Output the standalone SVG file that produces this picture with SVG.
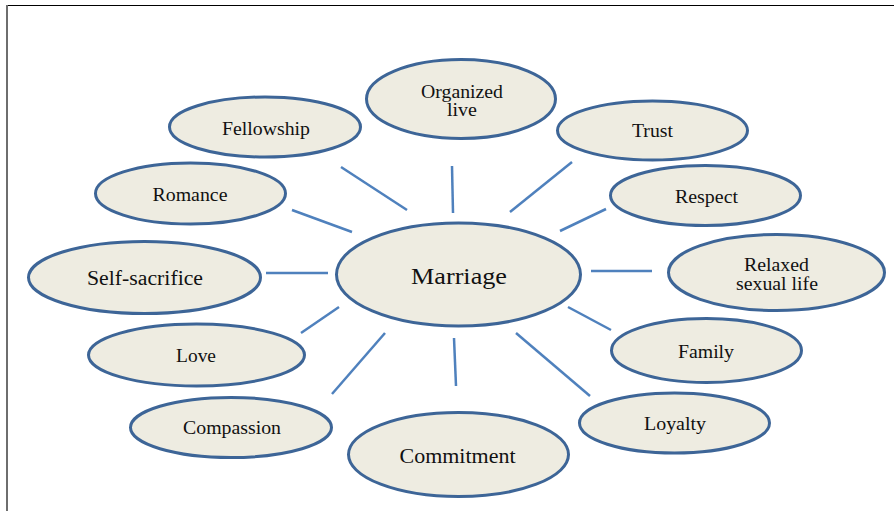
<svg xmlns="http://www.w3.org/2000/svg" width="894" height="511" viewBox="0 0 894 511">
  <style>
    .node ellipse { fill: #eeece1; stroke: #3d6597; stroke-width: 3; }
    .node text { font-family: "Liberation Serif", "Times New Roman", serif; fill: #111111; text-anchor: middle; }
    .edges line { stroke: #4f81bd; stroke-width: 2.5; stroke-linecap: butt; }
  </style>

  <rect width="894" height="511" fill="#ffffff"/>
  <!-- page frame -->
  <line x1="7" y1="5.5" x2="894" y2="5.5" stroke="#000000" stroke-width="1.2"/>
  <line x1="7" y1="5" x2="7" y2="511" stroke="#6e6e6e" stroke-width="2"/>

  <g class="edges">
    <line x1="341" y1="167" x2="407" y2="210"/>
    <line x1="292" y1="210" x2="352" y2="232"/>
    <line x1="452" y1="166" x2="453" y2="213"/>
    <line x1="572" y1="162" x2="510" y2="212"/>
    <line x1="606" y1="209" x2="560" y2="231"/>
    <line x1="591" y1="271" x2="652" y2="271"/>
    <line x1="568" y1="307" x2="611" y2="330"/>
    <line x1="516" y1="333" x2="590" y2="396"/>
    <line x1="454" y1="338" x2="456" y2="386"/>
    <line x1="266" y1="273" x2="328" y2="273"/>
    <line x1="339" y1="307" x2="301" y2="333"/>
    <line x1="385" y1="333" x2="332" y2="394"/>
  </g>

  <g id="marriage" class="node">
    <ellipse cx="458.5" cy="274.5" rx="122" ry="51.5"/>
    <text x="459" y="284" font-size="23" textLength="96" lengthAdjust="spacingAndGlyphs">Marriage</text>
  </g>
  <g id="fellowship" class="node">
    <ellipse cx="265" cy="127" rx="95.5" ry="30"/>
    <text x="266" y="135" font-size="18.5" textLength="88" lengthAdjust="spacingAndGlyphs">Fellowship</text>
  </g>
  <g id="organized-live" class="node">
    <ellipse cx="461" cy="99" rx="94.5" ry="39.5"/>
    <text x="462" y="97.5" font-size="18.5" textLength="82" lengthAdjust="spacingAndGlyphs">Organized</text>
    <text x="462" y="116" font-size="18.5" textLength="30" lengthAdjust="spacingAndGlyphs">live</text>
  </g>
  <g id="trust" class="node">
    <ellipse cx="652.5" cy="130.5" rx="95" ry="29.5"/>
    <text x="652.5" y="136.5" font-size="18" textLength="41" lengthAdjust="spacingAndGlyphs">Trust</text>
  </g>
  <g id="respect" class="node">
    <ellipse cx="705.5" cy="195.5" rx="95" ry="30"/>
    <text x="706.5" y="202.5" font-size="18" textLength="63" lengthAdjust="spacingAndGlyphs">Respect</text>
  </g>
  <g id="relaxed-sexual-life" class="node">
    <ellipse cx="776.5" cy="272.5" rx="108" ry="38"/>
    <text x="776.5" y="270.5" font-size="18" textLength="65" lengthAdjust="spacingAndGlyphs">Relaxed</text>
    <text x="777" y="289.5" font-size="18" textLength="82" lengthAdjust="spacingAndGlyphs">sexual life</text>
  </g>
  <g id="family" class="node">
    <ellipse cx="706.5" cy="350.5" rx="95" ry="32"/>
    <text x="706" y="357.5" font-size="18" textLength="56" lengthAdjust="spacingAndGlyphs">Family</text>
  </g>
  <g id="loyalty" class="node">
    <ellipse cx="674.5" cy="423" rx="95" ry="30"/>
    <text x="675" y="430" font-size="18" textLength="62" lengthAdjust="spacingAndGlyphs">Loyalty</text>
  </g>
  <g id="commitment" class="node">
    <ellipse cx="458.5" cy="454.5" rx="110" ry="42"/>
    <text x="457.5" y="462.5" font-size="20.5" textLength="116" lengthAdjust="spacingAndGlyphs">Commitment</text>
  </g>
  <g id="compassion" class="node">
    <ellipse cx="231" cy="427.5" rx="100.5" ry="30"/>
    <text x="232" y="434" font-size="18" textLength="98" lengthAdjust="spacingAndGlyphs">Compassion</text>
  </g>
  <g id="love" class="node">
    <ellipse cx="196.5" cy="355" rx="108" ry="31"/>
    <text x="196" y="362" font-size="18" textLength="40" lengthAdjust="spacingAndGlyphs">Love</text>
  </g>
  <g id="self-sacrifice" class="node">
    <ellipse cx="144.5" cy="277.5" rx="116" ry="36"/>
    <text x="145" y="285" font-size="20" textLength="116" lengthAdjust="spacingAndGlyphs">Self-sacrifice</text>
  </g>
  <g id="romance" class="node">
    <ellipse cx="190.5" cy="193.5" rx="95" ry="30.5"/>
    <text x="190" y="200.5" font-size="18" textLength="75" lengthAdjust="spacingAndGlyphs">Romance</text>
  </g>
</svg>
